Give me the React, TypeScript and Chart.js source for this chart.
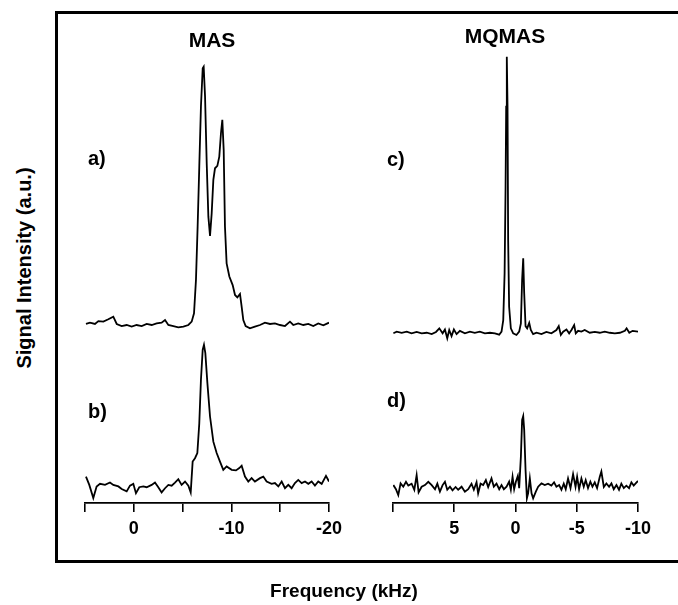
import React, { useEffect, useRef } from 'react';
import { Chart, registerables } from 'chart.js';

Chart.register(...registerables);

const FONT = "'Liberation Sans', Arial, Helvetica, sans-serif";

// ---- MAS panel (kHz) ----
const freqA = [4.90,4.49,3.98,3.63,3.12,2.61,2.10,1.75,1.24,0.73,0.22,-0.29,-0.81,-1.32,-1.83,-2.34,-2.85,-3.20,-3.54,-4.05,-4.56,-5.08,-5.59,-5.93,-6.17,-6.37,-6.54,-6.71,-6.88,-7.06,-7.16,-7.30,-7.47,-7.64,-7.81,-7.98,-8.15,-8.32,-8.56,-8.76,-8.93,-9.07,-9.21,-9.34,-9.51,-9.79,-10.13,-10.37,-10.61,-10.88,-11.05,-11.22,-11.46,-11.90,-12.41,-12.93,-13.44,-13.95,-14.46,-14.98,-15.49,-16.00,-16.34,-16.85,-17.37,-17.88,-18.39,-18.90,-19.42,-20.0];
const intA = [0.4,0.9,0.4,1.5,1.3,2.2,3.2,0.4,-0.4,0,-0.6,0,-0.4,0.4,0,0.6,0.9,1.9,0,-0.4,-0.9,-0.6,0,1.3,4.5,17.4,38.0,61.2,84.3,99.1,99.7,88.2,62.4,41.8,34.4,43.1,56.0,60.5,61.4,65.0,74.0,79.2,67.6,38.0,23.8,18.7,15.4,11.6,10.7,12.0,7.1,1.9,-0.4,-1.3,-0.6,0,0.9,0.4,0.6,0,-0.4,1.3,0,0.6,0,0.4,-0.4,0.6,-0.1,0.9];

const freqB = [4.90,4.56,4.15,3.81,3.46,2.95,2.44,2.10,1.58,1.24,0.73,0.39,0.05,-0.22,-0.56,-0.97,-1.32,-1.83,-2.17,-2.51,-2.85,-3.20,-3.54,-3.88,-4.22,-4.56,-4.90,-5.25,-5.59,-5.83,-6.03,-6.27,-6.51,-6.71,-6.88,-7.06,-7.19,-7.33,-7.54,-7.81,-8.15,-8.49,-8.83,-9.17,-9.51,-10.03,-10.47,-10.81,-11.05,-11.39,-11.73,-12.07,-12.41,-12.93,-13.27,-13.61,-14.12,-14.46,-14.81,-15.15,-15.49,-15.83,-16.17,-16.51,-16.85,-17.20,-17.54,-17.88,-18.22,-18.56,-18.90,-19.25,-19.69,-20.0];
const intB = [2.4,-0.8,-5.9,-1.4,-0.4,-0.8,0.1,-0.8,-1.4,-2.4,-3.3,-1.1,-0.4,-4.0,-1.7,-1.4,-1.7,-0.8,0.1,-1.7,-3.7,-2.1,-0.8,-1.1,0.1,1.4,-0.8,0.5,-1.1,-3.7,8.2,9.5,11.5,23.0,39.8,51.4,53.3,50.1,38.5,25.6,15.9,11.5,8.2,5.0,6.3,5.0,4.8,5.7,6.6,2.4,0.5,1.8,0.5,1.8,2.4,0.5,-0.4,-0.1,-1.4,0.5,-2.1,-0.8,-2.1,-0.1,1.1,-0.1,0.5,-0.4,0.5,-1.1,0.5,-0.4,2.7,0.5];

// ---- MQMAS panel (kHz) ----
const freqC = [9.97,9.70,9.29,8.88,8.48,8.07,7.66,7.25,6.84,6.49,6.22,5.95,5.76,5.57,5.41,5.22,5.03,4.81,4.54,4.13,3.72,3.32,2.91,2.50,2.09,1.68,1.33,1.14,1.00,0.89,0.81,0.76,0.71,0.65,0.60,0.52,0.38,0.19,-0.08,-0.30,-0.44,-0.54,-0.63,-0.71,-0.82,-0.95,-1.12,-1.25,-1.44,-1.71,-2.12,-2.52,-2.93,-3.34,-3.53,-3.70,-3.89,-4.16,-4.38,-4.57,-4.79,-4.92,-5.11,-5.38,-5.65,-6.06,-6.47,-6.88,-7.29,-7.70,-8.11,-8.52,-8.93,-9.07,-9.29,-9.56,-10.0];
const intC = [-0.1,0.5,0.1,0.5,-0.1,0.4,-0.1,0.1,-0.4,0.4,1.7,-0.1,1.3,-1.9,1.1,-1.1,1.3,-0.4,0.8,-0.1,0.5,0.1,0.5,-0.1,0.1,-0.1,-0.6,0.5,4.7,21.6,53.0,82.0,100.1,82.0,33.7,9.5,1.7,-0.1,-0.7,0.5,3.5,19.2,27.1,14.4,2.5,1.7,3.7,1.1,-0.4,0.1,-0.4,0.4,-0.1,1.1,2.5,-0.7,0.5,1.3,-0.1,1.1,2.9,-0.1,0.8,0.5,1.1,0.1,0.4,0.1,0.5,0.1,-0.1,0.1,0.8,1.7,0.1,0.8,0.5];

const freqD = [9.97,9.76,9.57,9.38,9.16,8.94,8.75,8.48,8.26,8.07,7.91,7.66,7.39,7.12,6.84,6.57,6.38,6.17,5.95,5.76,5.57,5.35,5.14,4.89,4.68,4.40,4.13,3.86,3.59,3.40,3.18,3.05,2.85,2.64,2.42,2.23,1.96,1.77,1.55,1.33,1.14,0.95,0.73,0.52,0.38,0.24,0.11,-0.03,-0.19,-0.30,-0.44,-0.54,-0.63,-0.71,-0.82,-0.93,-1.03,-1.17,-1.31,-1.44,-1.66,-1.85,-2.12,-2.39,-2.66,-2.93,-3.15,-3.34,-3.56,-3.75,-3.94,-4.10,-4.29,-4.49,-4.70,-4.90,-5.03,-5.19,-5.38,-5.57,-5.73,-5.92,-6.11,-6.28,-6.47,-6.66,-6.88,-7.01,-7.21,-7.42,-7.64,-7.83,-8.02,-8.24,-8.45,-8.64,-8.84,-9.05,-9.27,-9.46,-9.65,-9.81,-10.0];
const intD = [0.7,-0.8,-2.9,1.3,0.1,1.9,0.5,1.2,-1.0,4.3,-1.9,0.1,0.7,1.9,0.7,-0.8,1.2,-1.7,0.7,1.9,-1.0,0.1,-1.2,0,-1.0,0.1,-1.7,-0.8,1.2,-1.0,1.7,-2.3,1.2,0.7,2.5,0,3.1,0.1,1.2,-0.8,0.7,-0.8,0.1,1.9,-1.0,3.7,-0.8,1.9,4.0,-0.4,11.0,24.3,25.7,20.7,6.2,-4.1,-2.3,3.1,-2.3,-4.1,-1.7,0.1,1.3,0.7,1.2,0.5,1.7,0.1,0.7,-1.0,1.2,-0.8,3.1,-0.4,4.7,0.1,3.7,-0.8,3.1,0.1,2.5,-0.4,1.9,0.1,1.7,-0.4,3.7,5.6,0,1.3,0.1,1.3,-0.8,0.7,-1.0,1.2,-0.4,0.5,-0.4,1.7,0.5,1.3,2.2];

// axis ranges and tick labels
const masRange = [-20, 5];
const mqmasRange = [-10, 10];
const masLabels = ['0', '-10', '-20'];
const mqmasLabels = ['5', '0', '-5', '-10'];
const panelTitles = ['MAS', 'MQMAS'];
const traceLabels = ['a)', 'b)', 'c)', 'd)'];

type Trace = { f: number[]; v: number[]; min: number; max: number };

function buildConfig(range: number[], labels: string[], traces: Trace[], padL: number, padR: number): any {
  const scales: any = {
    x: {
      type: 'linear',
      position: 'bottom',
      min: range[0],
      max: range[1],
      reverse: true,
      border: { display: true, color: '#000', width: 1.8 },
      grid: { display: true, drawOnChartArea: false, drawTicks: true, tickLength: 9, color: '#000', lineWidth: 1.6 },
      ticks: {
        stepSize: 5,
        autoSkip: false,
        maxRotation: 0,
        padding: 6,
        color: '#000',
        font: { family: FONT, size: 18, weight: 'bold' },
        callback: (v: number) => (labels.includes(String(v)) ? String(v) : ''),
      },
    },
  };
  const datasets = traces.map((t, i) => {
    const id = 'y' + i;
    scales[id] = { type: 'linear', display: false, min: t.min, max: t.max };
    return {
      data: t.f.map((f, k) => ({ x: f, y: t.v[k] })),
      xAxisID: 'x',
      yAxisID: id,
      borderColor: '#000',
      borderWidth: 1.8,
      pointRadius: 0,
      tension: 0,
      fill: false,
    };
  });
  return {
    type: 'line',
    data: { datasets },
    options: {
      animation: false,
      responsive: false,
      devicePixelRatio: 1,
      layout: { padding: { left: padL, right: padR, top: 40, bottom: 59.4 } },
      plugins: { legend: { display: false }, tooltip: { enabled: false }, title: { display: false } },
      scales,
    },
  };
}

function Panel({ left, width, config }: { left: number; width: number; config: () => any }) {
  const ref = useRef<HTMLCanvasElement>(null);
  useEffect(() => {
    const chart = new Chart(ref.current as HTMLCanvasElement, config());
    return () => chart.destroy();
  }, []);
  return (
    <canvas
      ref={ref}
      width={width}
      height={605}
      style={{ position: 'absolute', left, top: 0, width, height: 605 }}
    />
  );
}

function Txt({ x, y, size, children, align = 'center' }: any) {
  const tx = align === 'center' ? '-50%' : '0';
  return (
    <div
      style={{
        position: 'absolute',
        left: x,
        top: y,
        transform: `translate(${tx}, -50%)`,
        font: `bold ${size}px ${FONT}`,
        whiteSpace: 'nowrap',
        color: '#000',
        lineHeight: 1,
      }}
    >
      {children}
    </div>
  );
}

export default function App() {
  const leftConfig = () =>
    buildConfig(masRange, masLabels, [
      { f: freqA, v: intA, min: -68.7, max: 110.0 },
      { f: freqB, v: intB, min: -7.8, max: 171.0 },
    ], 25, 31);
  const rightConfig = () =>
    buildConfig(mqmasRange, mqmasLabels, [
      { f: freqC, v: intC, min: -61.6, max: 106.2 },
      { f: freqD, v: intD, min: -5.8, max: 162.0 },
    ], 31, 34);

  return (
    <div style={{ position: 'fixed', left: 0, top: 0, width: 678, height: 605, overflow: 'hidden', background: '#fff' }}>
      <div
        style={{
          position: 'absolute',
          left: 55,
          top: 11,
          width: 700,
          height: 552,
          boxSizing: 'border-box',
          border: '3px solid #000',
        }}
      />
      <Panel left={60} width={300} config={leftConfig} />
      <Panel left={362} width={310} config={rightConfig} />
      <Txt x={212} y={39} size={21}>{panelTitles[0]}</Txt>
      <Txt x={505} y={35} size={21}>{panelTitles[1]}</Txt>
      <Txt x={88} y={158} size={20} align="left">{traceLabels[0]}</Txt>
      <Txt x={88} y={411} size={20} align="left">{traceLabels[1]}</Txt>
      <Txt x={387} y={159} size={20} align="left">{traceLabels[2]}</Txt>
      <Txt x={387} y={400} size={20} align="left">{traceLabels[3]}</Txt>
      <Txt x={344} y={590} size={19}>Frequency (kHz)</Txt>
      <div
        style={{
          position: 'absolute',
          left: 24,
          top: 268,
          transform: 'translate(-50%, -50%) rotate(-90deg)',
          font: `bold 20px ${FONT}`,
          whiteSpace: 'nowrap',
          color: '#000',
          lineHeight: 1,
        }}
      >
        Signal Intensity (a.u.)
      </div>
    </div>
  );
}
